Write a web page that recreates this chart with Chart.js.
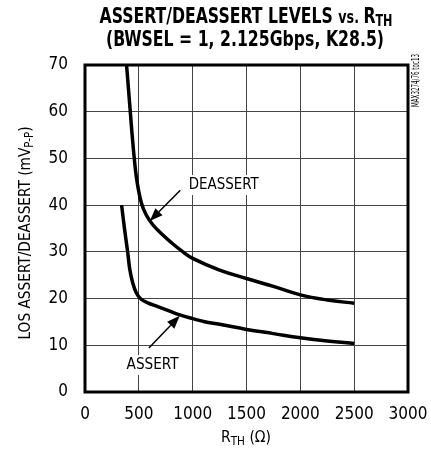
<!DOCTYPE html>
<html>
<head>
<meta charset="utf-8">
<script src="https://cdn.jsdelivr.net/npm/chart.js@4.4.1/dist/chart.umd.min.js"></script>
<style>
  html, body { margin: 0; padding: 0; background: #fff; }
</style>
</head>
<body>
<canvas id="chart" width="431" height="452"></canvas>
<script>
// threshold resistor (ohms) and LOS levels (mVp-p)
const deassertR  = [386, 403, 421, 438, 458, 481, 523, 569, 630, 713, 806, 898, 1000, 1250, 1500, 1750, 2000, 2250, 2500];
const deassertMv = [70, 65.1, 59.9, 55.0, 49.9, 45.4, 40.5, 37.9, 35.8, 33.8, 31.9, 30.2, 28.6, 26.1, 24.3, 22.6, 20.8, 19.7, 19.0];
const assertR    = [340, 366, 396, 417, 444, 477, 519, 583, 676, 787, 880, 1000, 1111, 1250, 1500, 1750, 2000, 2250, 2500];
const assertMv   = [40, 35.1, 30, 26.1, 23.3, 21.2, 19.9, 19.1, 18.3, 17.3, 16.5, 15.7, 15.05, 14.5, 13.4, 12.5, 11.6, 10.9, 10.4];
const xTicks = [0, 500, 1000, 1500, 2000, 2500, 3000];
const yTicks = [0, 10, 20, 30, 40, 50, 60, 70];

const NARROW = "'Liberation Sans Narrow', 'Arial Narrow', 'DejaVu Sans Condensed', sans-serif";

function toPoints(xs, ys) {
  return xs.map((x, i) => ({ x: x, y: ys[i] }));
}

// draws a run of text pieces (for subscripts), squeezed to a given width
function drawRich(ctx, parts, x, y, width, align) {
  let total = 0;
  parts.forEach(p => {
    ctx.font = p.font;
    p.w = ctx.measureText(p.text).width;
    total += p.w;
  });
  const sx = width ? width / total : 1;
  ctx.save();
  ctx.translate(x, y);
  ctx.scale(sx, 1);
  let cx = align === 'center' ? -total / 2 : 0;
  parts.forEach(p => {
    ctx.font = p.font;
    ctx.fillText(p.text, cx, p.dy || 0);
    cx += p.w;
  });
  ctx.restore();
}

function arrow(ctx, x1, y1, x2, y2) {
  const ang = Math.atan2(y2 - y1, x2 - x1);
  const len = 13, half = 5;
  const bx = x2 - len * Math.cos(ang), by = y2 - len * Math.sin(ang);
  ctx.beginPath();
  ctx.moveTo(x1, y1);
  ctx.lineTo(bx, by);
  ctx.lineWidth = 1.5;
  ctx.stroke();
  ctx.beginPath();
  ctx.moveTo(x2, y2);
  ctx.lineTo(bx + half * Math.sin(ang), by - half * Math.cos(ang));
  ctx.lineTo(bx - half * Math.sin(ang), by + half * Math.cos(ang));
  ctx.closePath();
  ctx.fill();
}

const decorations = {
  id: 'decorations',
  afterDatasetsDraw(chart) {
    const ctx = chart.ctx;
    const xs = chart.scales.x, ys = chart.scales.y;
    const px = v => xs.getPixelForValue(v);
    const py = v => ys.getPixelForValue(v);
    ctx.save();
    ctx.fillStyle = '#000';
    ctx.strokeStyle = '#000';

    // curve labels on white boxes
    ctx.textBaseline = 'middle';
    [['DEASSERT', 963, 44.3, 70], ['ASSERT', 386, 5.8, 52]].forEach(([t, r, mv, w]) => {
      ctx.fillStyle = '#fff';
      ctx.fillRect(px(r) - 3, py(mv) - 10, w + 6, 20);
      ctx.fillStyle = '#000';
      drawRich(ctx, [{ text: t, font: '16px ' + NARROW }], px(r), py(mv), w, 'left');
    });
    arrow(ctx, px(885), py(43.2), px(602), py(36.6));
    arrow(ctx, px(593), py(9.4), px(880), py(16.3));

    // frame
    const a = chart.chartArea;
    ctx.lineWidth = 3;
    ctx.strokeRect(a.left, a.top, a.right - a.left, a.bottom - a.top);
    ctx.restore();
  },
  afterDraw(chart) {
    const ctx = chart.ctx;
    ctx.save();
    ctx.fillStyle = '#000';
    ctx.textBaseline = 'alphabetic';
    const B = 'bold 21px ' + NARROW;
    drawRich(ctx, [
      { text: 'ASSERT/DEASSERT LEVELS ', font: B },
      { text: 'vs. ', font: 'bold 17px ' + NARROW },
      { text: 'R', font: B },
      { text: 'TH', font: 'bold 15px ' + NARROW, dy: 3 }
    ], 246, 23, 293, 'center');
    drawRich(ctx, [{ text: '(BWSEL = 1, 2.125Gbps, K28.5)', font: B }], 245, 46, 278, 'center');

    // axis titles
    drawRich(ctx, [
      { text: 'R', font: '16px ' + NARROW },
      { text: 'TH', font: '12px ' + NARROW, dy: 3 },
      { text: ' (Ω)', font: '16px ' + NARROW }
    ], 246, 442, 50, 'center');

    ctx.save();
    ctx.translate(24, 233);
    ctx.rotate(-Math.PI / 2);
    drawRich(ctx, [
      { text: 'LOS ASSERT/DEASSERT (mV', font: '16px ' + NARROW },
      { text: 'P-P', font: '12px ' + NARROW, dy: 3 },
      { text: ')', font: '16px ' + NARROW }
    ], 0, 6, 213, 'center');
    ctx.restore();

    ctx.save();
    ctx.translate(419, 107);
    ctx.rotate(-Math.PI / 2);
    drawRich(ctx, [{ text: 'MAX3274/76 toc13', font: '10px ' + NARROW }], 0, 0, 53, 'left');
    ctx.restore();
    ctx.restore();
  }
};

const lineStyle = {
  borderColor: '#000',
  borderWidth: 3.5,
  pointRadius: 0,
  fill: false,
  tension: 0.4
};

new Chart(document.getElementById('chart').getContext('2d'), {
  type: 'line',
  data: {
    datasets: [
      Object.assign({ label: 'DEASSERT', data: toPoints(deassertR, deassertMv) }, lineStyle),
      Object.assign({ label: 'ASSERT', data: toPoints(assertR, assertMv) }, lineStyle)
    ]
  },
  options: {
    responsive: false,
    animation: false,
    layout: { padding: { top: 65, right: 23, left: 0, bottom: 0 } },
    plugins: { legend: { display: false }, tooltip: { enabled: false }, title: { display: false } },
    scales: {
      x: {
        type: 'linear',
        min: 0,
        max: 3000,
        afterBuildTicks: s => { s.ticks = xTicks.map(v => ({ value: v })); },
        afterFit: s => { s.height = 60; s.paddingLeft = 0; s.paddingRight = 0; },
        ticks: { color: '#000', padding: 12, font: { family: NARROW, size: 17 }, callback: v => String(v) },
        grid: { color: '#444', lineWidth: 1, drawTicks: false },
        border: { display: false }
      },
      y: {
        min: 0,
        max: 70,
        afterBuildTicks: s => { s.ticks = yTicks.map(v => ({ value: v })); },
        afterFit: s => { s.width = 85; s.paddingTop = 0; s.paddingBottom = 0; },
        ticks: { color: '#000', padding: 17, font: { family: NARROW, size: 17 }, callback: v => String(v) },
        grid: { color: '#444', lineWidth: 1, drawTicks: false },
        border: { display: false }
      }
    }
  },
  plugins: [decorations]
});
</script>
</body>
</html>
